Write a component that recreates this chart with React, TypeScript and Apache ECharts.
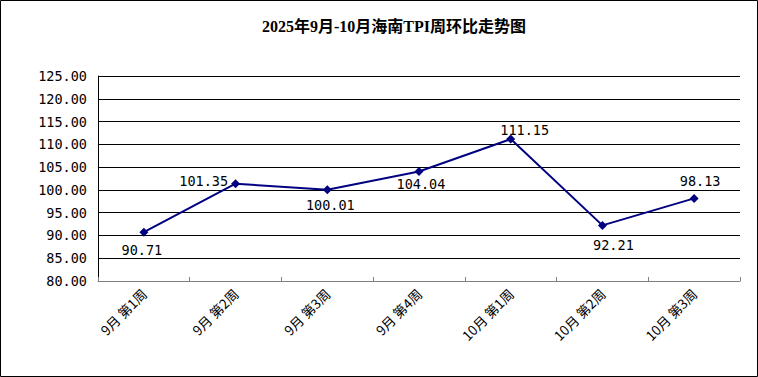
import React, { useEffect, useRef } from "react";
import * as echarts from "echarts";

const categories = ["9月 第1周", "9月 第2周", "9月 第3周", "9月 第4周", "10月 第1周", "10月 第2周", "10月 第3周"];
const values = [90.71, 101.35, 100.01, 104.04, 111.15, 92.21, 98.13];
const titleText = "2025年9月-10月海南TPI周环比走势图";

// label placement (style only)
const labelLayout: { position: string; distance: number; offset: number[] }[] = [
  { position: "bottom", distance: 0, offset: [-2, 6.5] },
  { position: "left", distance: 3, offset: [0, -3] },
  { position: "bottom", distance: 0, offset: [3, 3.5] },
  { position: "bottom", distance: 0, offset: [2, 1] },
  { position: "top", distance: 0, offset: [14, 2.5] },
  { position: "bottom", distance: 0, offset: [11, 8.5] },
  { position: "top", distance: 0, offset: [6, -5.5] },
];

export default function App() {
  const ref = useRef<HTMLDivElement>(null);
  useEffect(() => {
    const chart = echarts.init(ref.current!, null, { renderer: "svg" });
    const numFont = '"DejaVu Sans Mono", monospace';
    chart.setOption({
      animation: false,
      backgroundColor: "#fff",
      title: {
        text: titleText,
        left: 257,
        top: 13,
        textStyle: {
          fontFamily: '"Liberation Serif", "Noto Sans CJK SC"',
          fontSize: 16,
          fontWeight: "bold",
          color: "#000",
        },
      },
      graphic: [
        {
          type: "rect",
          shape: { x: 0.5, y: 0.5, width: 757, height: 376 },
          style: { fill: "none", stroke: "#000", lineWidth: 1 },
          silent: true,
        },
      ],
      grid: { left: 98, right: 18, top: 76, bottom: 96 },
      xAxis: {
        type: "category",
        data: categories,
        boundaryGap: true,
        axisLine: { lineStyle: { color: "#808080", width: 1 } },
        axisTick: { show: true, inside: true, length: 4, lineStyle: { color: "#808080" } },
        axisLabel: {
          rotate: 45,
          interval: 0,
          margin: 10,
          fontFamily: '"Noto Sans CJK SC"',
          fontSize: 13.5,
          color: "#000",
        },
      },
      yAxis: {
        type: "value",
        min: 80,
        max: 125,
        interval: 5,
        axisLine: { show: true, lineStyle: { color: "#000", width: 1 } },
        axisTick: { show: false },
        splitLine: { show: true, lineStyle: { color: "#000", width: 1 } },
        axisLabel: {
          margin: 11,
          fontFamily: numFont,
          fontSize: 13.5,
          color: "#000",
          formatter: (v: number) => v.toFixed(2),
        },
      },
      series: [
        {
          type: "line",
          data: values.map((v, i) => ({
            value: v,
            label: {
              position: labelLayout[i].position,
              distance: labelLayout[i].distance,
              offset: labelLayout[i].offset,
            },
          })),
          lineStyle: { color: "#000080", width: 2 },
          itemStyle: { color: "#000080" },
          symbol: "diamond",
          symbolSize: 9,
          label: {
            show: true,
            fontFamily: numFont,
            fontSize: 13.5,
            color: "#000",
            formatter: (p: any) => Number(p.value).toFixed(2),
          },
        },
      ],
    });
    return () => chart.dispose();
  }, []);
  return <div ref={ref} style={{ position: "fixed", left: 0, top: 0, width: 758, height: 377 }} />;
}
